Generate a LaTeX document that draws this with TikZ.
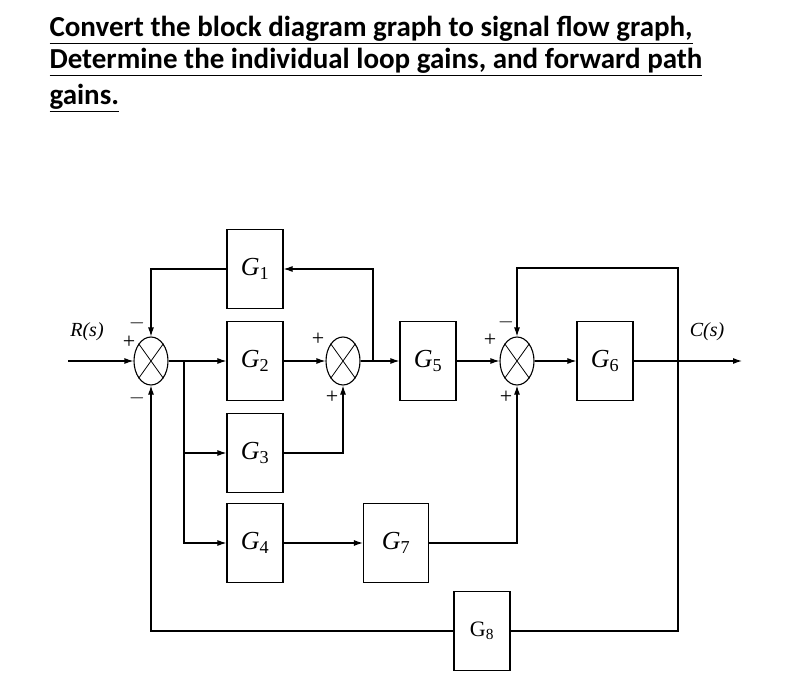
\documentclass[tikz,border=0pt]{standalone}
\usepackage{fontspec}
\setmainfont{Liberation Serif}
\newfontfamily\titlefont{Carlito}
\usetikzlibrary{arrows.meta,shapes.geometric}
\newcommand{\blkG}[1]{\textit{G}\textsubscript{#1}}
\begin{document}
\begin{tikzpicture}[x=1pt,y=-1pt,
  blk/.style={draw,line width=1.2pt,minimum width=56pt,minimum height=79pt,inner sep=0pt,font=\fontsize{26}{26}\selectfont},
  sum/.style={draw,line width=1.1pt,ellipse,minimum width=34pt,minimum height=48pt,inner sep=0pt},
  ln/.style={line width=1.1pt},
  ar/.style={ln,-{Latex[length=9pt,width=6pt]}},
  sg/.style={font=\fontsize{22}{22}\selectfont},
  tt/.style={anchor=west,font=\titlefont\bfseries\fontsize{29}{29}\selectfont}]
\useasboundingbox (0,0) rectangle (801,698);
\node[tt] (t1) at (46,30) {\underline{Convert the block diagram graph to signal flow graph,}};
\node[tt] (t2) at (46,62) {\underline{Determine the individual loop gains, and forward path}};
\node[tt] (t3) at (46,98) {\underline{gains.}};
% sums
\node[sum] (s1) at (151,361) {};
\node[sum] (s2) at (343,361) {};
\node[sum] (s3) at (517,361) {};
\foreach \s in {s1,s2,s3}{
  \draw[line width=0.8pt] (\s.north west) -- (\s.south east) (\s.north east) -- (\s.south west);}
% blocks
\node[blk] (g1) at (255,269) {\blkG{1}};
\node[blk] (g2) at (255,361) {\blkG{2}};
\node[blk] (g3) at (255,453) {\blkG{3}};
\node[blk] (g4) at (255,543) {\blkG{4}};
\node[blk] (g5) at (428,361) {\blkG{5}};
\node[blk] (g6) at (605,361) {\blkG{6}};
\node[blk,minimum width=65pt] (g7) at (396,543) {\blkG{7}};
\node[blk,font=\fontsize{22}{22}\selectfont] (g8) at (482,631) {G\textsubscript{8}};
\coordinate (rin) at (68,361);
\coordinate (cout) at (742,361);
\coordinate (b1) at (184,361);
\coordinate (b2) at (373,361);
\coordinate (b3) at (678,361);
\node[font=\itshape\fontsize{20}{20}\selectfont] (rl) at (87,332) {R(s)};
\node[font=\itshape\fontsize{20}{20}\selectfont] (cl) at (707,332) {C(s)};
% forward
\draw[ar] (rin) -- (s1);
\draw[ar] (s1) -- (g2);
\draw[ar] (g2) -- (s2);
\draw[ar] (s2) -- (g5);
\draw[ar] (g5) -- (s3);
\draw[ar] (s3) -- (g6);
\draw[ar] (g6) -- (cout);
% branches
\draw[ar] (b1) |- (g3);
\draw[ar] (b1) |- (g4);
\draw[ar] (g4) -- (g7);
\draw[ar] (g3.east) -| (s2.south);
\draw[ar] (g7.east) -| (s3.south);
\draw[ar] (b2) |- (g1.east);
\draw[ar] (g1.west) -| (s1.north);
\draw[ar] (b3) |- (517,268) -- (s3.north);
\draw[ln] (b3) |- (g8.east);
\draw[ar] (g8.west) -| (s1.south);
% signs
\node[sg] (p1) at (129,342) {+};
\node[sg] (m1) at (137,323) {$-$};
\node[sg] (m2) at (137,398) {$-$};
\node[sg] (p2) at (318,339) {+};
\node[sg] (p3) at (332,397) {+};
\node[sg] (p4) at (490,340) {+};
\node[sg] (m3) at (506,322) {$-$};
\node[sg] (p5) at (506,397) {+};
\end{tikzpicture}
\end{document}
